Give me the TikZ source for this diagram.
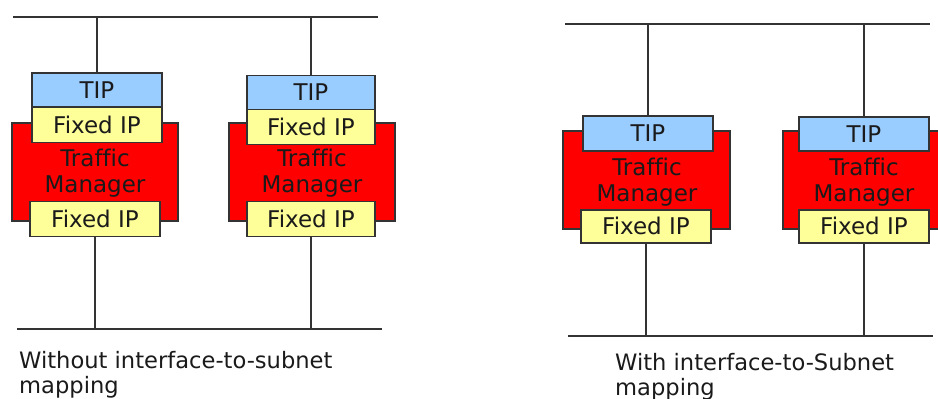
\documentclass[tikz,border=0pt]{standalone}
\usepackage{fontspec}
\setmainfont[Ligatures=NoCommon]{DejaVu Sans}
\definecolor{tipblue}{HTML}{99CCFF}
\definecolor{fixyellow}{HTML}{FFFF99}
\definecolor{tmred}{HTML}{FF0000}
\definecolor{linegray}{HTML}{333333}
\definecolor{txt}{HTML}{1A1A1A}
\begin{document}
\begin{tikzpicture}[x=1pt,y=-1pt,
  every node/.style={font=\fontsize{23}{25}\selectfont, inner sep=0pt, text=txt,
    text height=16.8pt, text depth=0pt},
  tmbox/.style={draw=linegray, line width=1.8pt, fill=tmred, minimum width=166pt, minimum height=98pt},
  tipbox/.style={draw=linegray, line width=1.8pt, fill=tipblue, minimum width=130pt, minimum height=34pt},
  fixbox/.style={draw=linegray, line width=1.8pt, fill=fixyellow, minimum width=130pt, minimum height=35pt},
  wire/.style={draw=linegray, line width=1.8pt},
  caption/.style={anchor=base west, text height=, text depth=, font=\fontsize{22.6}{25}\selectfont}]
\useasboundingbox (0,0) rectangle (938,399);
% buses
\coordinate (busTopL1) at (13,17);   \coordinate (busTopL2) at (378,17);
\coordinate (busBotL1) at (17,329);  \coordinate (busBotL2) at (382,329);
\coordinate (busTopR1) at (565,24);  \coordinate (busTopR2) at (930,24);
\coordinate (busBotR1) at (568,336); \coordinate (busBotR2) at (933,336);
% unit A
\node[tmbox] (redA) at (95,172) {};
\node (trafA) at (95,158) {Traffic};
\node (manA) at (95,184) {Manager};
\node[tipbox] (tipA) at (97,90) {TIP};
\node[fixbox] (fixTA) at (97,125) {Fixed IP};
\node[fixbox] (fixBA) at (95,219) {Fixed IP};
% unit B
\node[tmbox] (redB) at (312,172) {};
\node (trafB) at (312,158) {Traffic};
\node (manB) at (312,184) {Manager};
\node[tipbox, minimum width=128pt] (tipB) at (311,92.5) {TIP};
\node[fixbox, minimum width=128pt] (fixTB) at (311,127) {Fixed IP};
\node[fixbox, minimum width=128pt] (fixBB) at (311,219) {Fixed IP};
% unit C
\node[tmbox, minimum width=167pt] (redC) at (646.5,180) {};
\node (trafC) at (647,167) {Traffic};
\node (manC) at (647,193) {Manager};
\node[tipbox, minimum height=35pt] (tipC) at (648,133.5) {TIP};
\node[fixbox, minimum height=33pt] (fixBC) at (646,226.5) {Fixed IP};
% unit D
\node[tmbox] (redD) at (866,180) {};
\node (trafD) at (864,167) {Traffic};
\node (manD) at (864,193) {Manager};
\node[tipbox] (tipD) at (864,134) {TIP};
\node[fixbox, minimum height=33pt] (fixBD) at (864,226.5) {Fixed IP};
% wires
\draw[wire] (busTopL1) -- (busTopL2);
\draw[wire] (busBotL1) -- (busBotL2);
\draw[wire] (busTopR1) -- (busTopR2);
\draw[wire] (busBotR1) -- (busBotR2);
\draw[wire] (tipA.north) -- (tipA.north |- busTopL1);
\draw[wire] (fixBA.south) -- (fixBA.south |- busBotL1);
\draw[wire] (tipB.north) -- (tipB.north |- busTopL1);
\draw[wire] (fixBB.south) -- (fixBB.south |- busBotL1);
\draw[wire] (tipC.north) -- (tipC.north |- busTopR1);
\draw[wire] (fixBC.south) -- (fixBC.south |- busBotR1);
\draw[wire] (tipD.north) -- (tipD.north |- busTopR1);
\draw[wire] (fixBD.south) -- (fixBD.south |- busBotR1);
% captions
\node[caption] (capL1) at (19,368) {Without interface-to-subnet};
\node[caption] (capL2) at (19,393) {mapping};
\node[caption] (capR1) at (615,370) {With interface-to-Subnet};
\node[caption] (capR2) at (615,395) {mapping};
\end{tikzpicture}
\end{document}
